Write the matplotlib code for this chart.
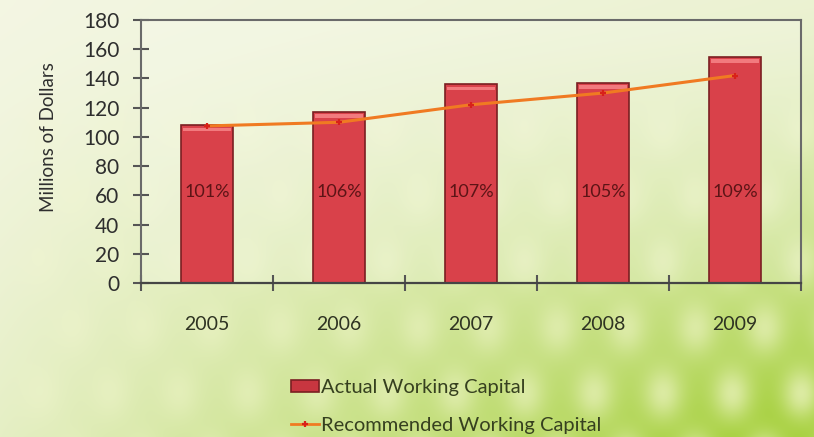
import numpy as np
import matplotlib
matplotlib.use("Agg")
import matplotlib.pyplot as plt
from matplotlib.lines import Line2D
from matplotlib.patches import Patch

plt.rcParams['font.family'] = ['Lato', 'DejaVu Sans']

# Data (millions of dollars)
years = ["2005", "2006", "2007", "2008", "2009"]
actual = [108, 117, 136, 137, 155]
recommended = [107.5, 110, 122, 130, 142]
ratio_labels = ["101%", "106%", "107%", "105%", "109%"]
y_ticks = [0, 20, 40, 60, 80, 100, 120, 140, 160, 180]

W, H = 814, 437
fig = plt.figure(figsize=(W / 100, H / 100), dpi=100)

# Soft green backdrop with pale oval highlights
yy, xx = np.mgrid[0:1:H * 1j, 0:1:W * 1j]
g = np.clip(0.1 * xx + yy ** 1.4 * (0.18 + 0.8 * xx), 0, 1)
pale = np.array([0.955, 0.965, 0.89])
green = np.array([0.64, 0.81, 0.22])
img = pale[None, None, :] * (1 - g[..., None]) + green[None, None, :] * g[..., None]
glow = np.zeros_like(xx)
for k, cy in enumerate(np.arange(0.30, 1.1, 0.15)):
    for cx in np.arange(0.05, 1.05, 0.085):
        sx = cx + 0.04 * (k % 2)
        glow += np.exp(-(((xx - sx) / 0.024) ** 2 + ((yy - cy) / 0.06) ** 2))
glow = np.clip(glow, 0, 1) * (0.2 + 0.5 * g)
img = img * (1 - glow[..., None]) + np.array([0.96, 0.97, 0.82])[None, None, :] * glow[..., None]
bg = fig.add_axes([0, 0, 1, 1], zorder=-1)
bg.imshow(img, aspect='auto', extent=[0, 1, 0, 1], origin='upper')
bg.axis('off')

ax = fig.add_axes([141 / W, 1 - 283 / H, 660 / W, 263 / H])
ax.set_facecolor((1, 1, 1, 0.2))

x = np.arange(len(years))
bar_w = 0.39
ax.bar(x, actual, width=bar_w, color='#d9414a', edgecolor='#7a1f22', linewidth=1.2, zorder=2)
# glossy strip near the top of each bar
ax.bar(x, [2.6] * len(x), bottom=np.array(actual) - 4.2, width=bar_w - 0.02,
       color='#f27a7e', linewidth=0, zorder=3)

ax.plot(x, recommended, color='#f07a22', linewidth=2.2, zorder=4,
        marker='+', markersize=5, markeredgecolor='#d8201a', markeredgewidth=1.6)

for xi, lab in zip(x, ratio_labels):
    ax.text(xi, 62, lab, ha='center', va='center', fontsize=13,
            color='#5c1416', zorder=5)

ax.set_xlim(-0.5, len(years) - 0.5)
ax.set_ylim(0, 180)
ax.set_yticks(y_ticks)
ax.set_xticks(x)
ax.set_xticklabels(years)
ax.set_xticks(np.arange(-0.5, len(years)), minor=True)

ax.tick_params(axis='y', direction='inout', length=11, width=1.5, color='#555555',
               labelsize=15, labelcolor='#2e2e2e', pad=10)
ax.tick_params(axis='x', which='major', length=0, labelsize=14,
               labelcolor='#2e3322', pad=24)
ax.tick_params(axis='x', which='minor', direction='inout', length=11, width=1.5,
               color='#555555')

for side in ['left', 'right', 'top']:
    ax.spines[side].set_color('#6a6a6a')
    ax.spines[side].set_linewidth(1.5)
ax.spines['bottom'].set_color('#454545')
ax.spines['bottom'].set_linewidth(1.6)

ax.set_ylabel("Millions of Dollars", fontsize=13.5, color='#2e2e2e')
ax.yaxis.set_label_coords(-0.128, 0.555)

handles = [
    Patch(facecolor='#c83640', edgecolor='#7a1f22', linewidth=1.2),
    Line2D([0], [0], color='#f07a22', linewidth=2, marker='+', markersize=5,
           markeredgecolor='#d8201a', markeredgewidth=1.6),
]
fig.legend(handles, ["Actual Working Capital", "Recommended Working Capital"],
           loc='upper left', bbox_to_anchor=(291 / W, 1 - 379 / H),
           frameon=False, fontsize=14.5, labelcolor='#36401f',
           handlelength=1.4, handleheight=0.6, handletextpad=0.1,
           labelspacing=1.05, borderpad=0, borderaxespad=0)

fig.savefig("out.png", dpi=100)
